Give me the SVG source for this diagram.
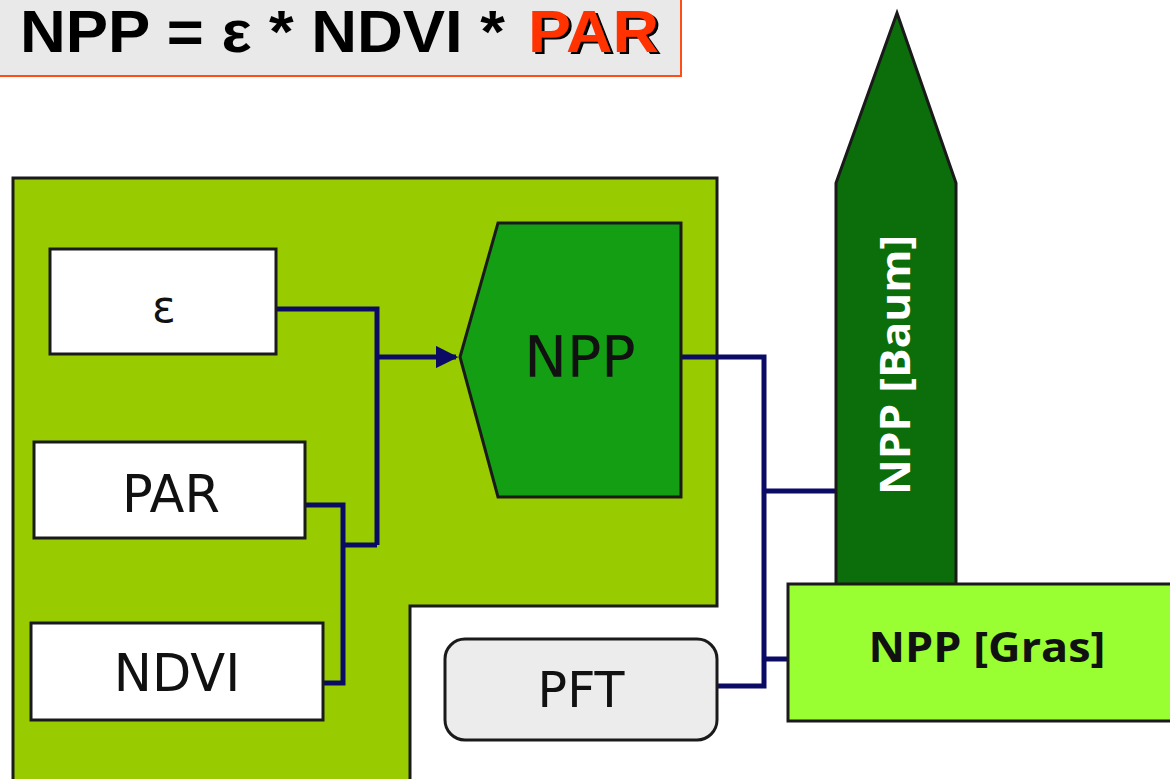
<svg xmlns="http://www.w3.org/2000/svg" width="1170" height="779" viewBox="0 0 1170 779">
<style>
.box{fill:#ffffff;stroke:#1a1a1a;stroke-width:3}
.lbl{font-family:"DejaVu Sans","Liberation Sans",sans-serif;fill:#111;text-anchor:middle;dominant-baseline:central}
.blbl{font-family:"Open Sans","Liberation Sans",sans-serif;font-weight:bold;text-anchor:middle;dominant-baseline:central}
.con{fill:none;stroke:#0b0b66;stroke-width:5;stroke-linejoin:miter}
.ttl{font-family:"Liberation Sans",Arial,sans-serif;font-weight:bold;font-size:60px}
</style>
<defs>
<marker id="arr" viewBox="0 0 10 10" refX="9" refY="5" markerWidth="4.5" markerHeight="4.5" orient="auto" markerUnits="strokeWidth">
<path d="M0,0 L10,5 L0,10 z" fill="#0b0b66"/>
</marker>
<filter id="shadow" x="-10%" y="-10%" width="130%" height="130%">
<feDropShadow dx="3" dy="2" stdDeviation="0" flood-color="#000" flood-opacity="1"/>
</filter>
</defs>
<rect width="1170" height="779" fill="#ffffff"/>
<g id="title">
<rect x="-3" y="-3" width="684" height="79" fill="#e9e9e9" stroke="#ff4d1a" stroke-width="2"/>
<text class="ttl" x="20" y="52" textLength="485" lengthAdjust="spacingAndGlyphs" fill="#000">NPP = ε * NDVI *</text>
<text class="ttl" x="528" y="52" textLength="131" lengthAdjust="spacingAndGlyphs" fill="#ff3300" filter="url(#shadow)">PAR</text>
</g>
<g id="region">
<path d="M13,178 H717 V606 H410 V782 H13 Z" fill="#99cc00" stroke="#1a1a1a" stroke-width="3"/>
</g>
<g id="connectors">
<path class="con" d="M276,309 H377 V545"/>
<path class="con" d="M377,357 H456" marker-end="url(#arr)"/>
<path class="con" d="M305,505 H343 V683 H323"/>
<path class="con" d="M343,545 H377"/>
<path class="con" d="M681,357 H764 V686 H717"/>
<path class="con" d="M764,491 H836"/>
<path class="con" d="M764,659 H788"/>
</g>
<g id="eps">
<rect class="box" x="50" y="249" width="226" height="105"/>
<text class="lbl" x="164" y="306" font-size="44">ε</text>
</g>
<g id="par">
<rect class="box" x="34" y="442" width="271" height="96"/>
<text class="lbl" x="171" y="494" font-size="51">PAR</text>
</g>
<g id="ndvi">
<rect class="box" x="31" y="623" width="292" height="97"/>
<text class="lbl" x="177" y="673" font-size="51">NDVI</text>
</g>
<g id="npp">
<path d="M498,223 H681 V497 H498 L460,357 Z" fill="#139e13" stroke="#1a1a1a" stroke-width="3"/>
<text class="lbl" x="580" y="357" font-size="57">NPP</text>
</g>
<g id="pft">
<rect x="445" y="639" width="272" height="101" rx="20" fill="#ececec" stroke="#1a1a1a" stroke-width="3"/>
<text class="lbl" x="581" y="690" font-size="49">PFT</text>
</g>
<g id="baum">
<path d="M836,183 L897,13 L956,183 V585 H836 Z" fill="#0b6e0b" stroke="#1a1a1a" stroke-width="3"/>
<text class="blbl" x="0" y="0" font-size="42" fill="#ffffff" textLength="260" lengthAdjust="spacingAndGlyphs" transform="translate(893,365) rotate(-90)">NPP [Baum]</text>
</g>
<g id="gras">
<rect x="788" y="584" width="390" height="137" fill="#99ff33" stroke="#1a1a1a" stroke-width="3"/>
<text class="blbl" x="987" y="645" font-size="42" fill="#111" textLength="237" lengthAdjust="spacingAndGlyphs">NPP [Gras]</text>
</g>
</svg>
